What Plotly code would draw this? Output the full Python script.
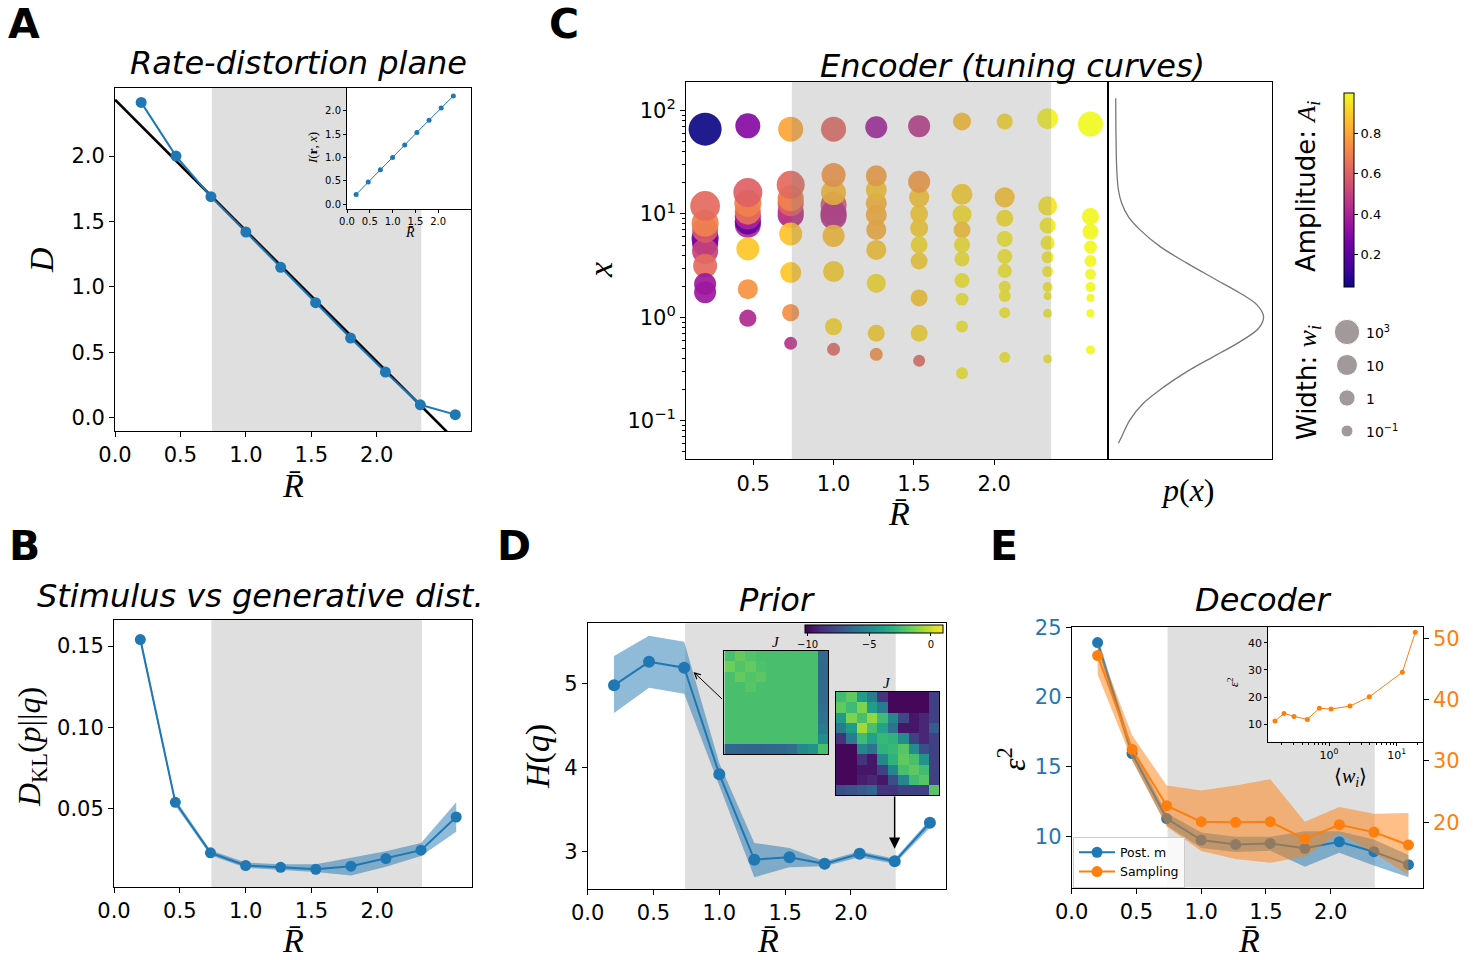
import numpy as np
import plotly.graph_objects as go

W, H = 1483, 960
BLUE = "#1f77b4"
ORANGE = "#ff7f0e"
SANS = "DejaVu Sans"
SERIF = "Liberation Serif"

# ---------------- data ----------------
R_vals = [0.2, 0.466, 0.733, 1.0, 1.266, 1.533, 1.8, 2.066, 2.333, 2.6]
SHADE = [0.74, 2.34]

# A: rate-distortion plane
A_D = [2.41, 2.0, 1.69, 1.42, 1.15, 0.88, 0.61, 0.35, 0.10, 0.025]
A_bound_R = [0.0, 2.6]
A_bound_D = [2.43, -0.17]
A_inset_I = [0.21, 0.48, 0.74, 1.0, 1.27, 1.54, 1.80, 2.06, 2.32]

# B: KL divergence
B_dkl = [0.154, 0.054, 0.023, 0.0152, 0.0141, 0.0129, 0.0148, 0.0195, 0.0246, 0.045]
B_lo = [0.152, 0.052, 0.0215, 0.0138, 0.0125, 0.0112, 0.0090, 0.0145, 0.0210, 0.036]
B_hi = [0.157, 0.056, 0.0245, 0.0170, 0.0160, 0.0160, 0.0200, 0.0240, 0.0290, 0.054]

# C: encoder (per column of R_vals; log10 x, log10 width, amplitude)
C_logx = [
    [0.766, 0.717, 0.640, 0.846, 0.911, 1.078, 0.498, 0.323, 0.243, 1.821],
    [0.895, 0.926, 0.975, 1.023, 1.104, 1.207, 0.662, 0.272, -0.009, 1.853],
    [0.991, 1.023, 1.104, 1.153, 1.282, 0.807, 0.433, 0.045, -0.251, 1.821],
    [1.088, 0.975, 1.008, 1.207, 1.378, 0.788, 0.443, -0.09, -0.309, 1.821],
    [0.991, 0.846, 1.104, 1.233, 1.369, 0.652, 0.329, -0.155, -0.358, 1.84],
    [1.001, 0.862, 1.161, 1.312, 0.701, 0.546, 0.188, -0.155, -0.42, 1.85],
    [1.19, 0.994, 0.846, 0.701, 0.565, 0.356, 0.176, -0.09, -0.542, 1.895],
    [1.161, 0.959, 0.759, 0.588, 0.449, 0.296, 0.206, 0.045, -0.387, 1.895],
    [1.078, 0.888, 0.72, 0.582, 0.443, 0.294, 0.206, 0.039, -0.403, 1.922],
    [0.975, 0.83, 0.68, 0.546, 0.417, 0.294, 0.188, 0.039, -0.316, 1.87],
]
C_logw = [
    [3.9, 3.4, 3.4, 3.4, 3.9, 5.3, 2.4, 1.47, 1.47, 7.0],
    [3.4, 3.4, 3.4, 3.4, 3.9, 4.9, 1.93, 0.81, 0.2, 2.86],
    [3.4, 3.4, 3.4, 3.4, 4.4, 1.93, 1.0, 0.2, -0.77, 2.86],
    [3.4, 3.4, 3.4, 2.86, 2.4, 1.47, 1.0, 0.2, -0.77, 2.86],
    [1.0, 0.81, 1.0, 1.0, 1.0, 0.81, 0.59, 0.15, -0.77, 1.47],
    [0.37, 0.37, 0.81, 1.47, 0.15, 0.15, 0.15, 0.15, -1.0, 1.47],
    [1.0, 0.59, 0.15, -0.07, -0.29, -0.29, -0.77, -1.0, -1.0, 0.37],
    [0.81, 0.15, -0.07, -0.29, -0.5, -1.0, -1.0, -1.23, -1.23, -0.07],
    [0.59, -0.07, -0.5, -1.0, -1.23, -1.47, -1.93, -1.7, -1.7, 1.0],
    [0.15, -0.07, -0.77, -1.0, -1.23, -1.47, -1.93, -1.93, -1.7, 2.86],
]
C_amp = [
    [0.20, 0.28, 0.50, 0.58, 0.70, 0.63, 0.63, 0.36, 0.36, 0.04],
    [0.42, 0.22, 0.40, 0.65, 0.70, 0.60, 0.88, 0.75, 0.42, 0.30],
    [0.42, 0.47, 0.60, 0.70, 0.63, 0.87, 0.88, 0.74, 0.45, 0.80],
    [0.57, 0.45, 0.45, 0.85, 0.76, 0.86, 0.90, 0.92, 0.62, 0.62],
    [0.82, 0.82, 0.83, 0.87, 0.78, 0.88, 0.93, 0.90, 0.74, 0.37],
    [0.90, 0.90, 0.88, 0.77, 0.93, 0.90, 0.88, 0.92, 0.62, 0.45],
    [0.90, 0.94, 0.87, 0.95, 0.95, 0.96, 0.96, 0.96, 0.96, 0.86],
    [0.87, 0.94, 0.96, 0.96, 0.96, 0.96, 0.96, 0.96, 0.96, 0.92],
    [0.95, 0.96, 0.96, 0.96, 0.96, 0.96, 0.96, 0.96, 0.96, 0.98],
    [0.99, 0.99, 0.99, 0.99, 0.99, 0.99, 0.99, 0.99, 0.99, 1.0],
]
AMP_RANGE = [0.039, 0.997]
WIDTH_LEGEND_LOGW = [3, 1, 0, -1]
WIDTH_LEGEND_TEXT = ["10<sup>3</sup>", "10", "1", "10<sup>\u22121</sup>"]

# p(x) curve (log10 x, normalised density)
PX_logx = [2.121, 1.749, 1.427, 1.233, 1.104, 0.975, 0.846, 0.684, 0.524, 0.378, 0.233,
           0.12, 0.007, -0.106, -0.235, -0.38, -0.526, -0.671, -0.832, -0.993, -1.155, -1.219]
PX_p = [0.0, 0.002, 0.007, 0.018, 0.040, 0.085, 0.164, 0.299, 0.479, 0.658, 0.838,
        0.951, 0.995, 0.962, 0.838, 0.658, 0.479, 0.327, 0.186, 0.096, 0.040, 0.018]

# D: prior entropy
D_H = [4.98, 5.26, 5.19, 3.92, 2.90, 2.93, 2.85, 2.97, 2.88, 3.34]
D_lo = [4.65, 4.95, 4.88, 3.78, 2.69, 2.81, 2.82, 2.93, 2.85, 3.28]
D_hi = [5.33, 5.57, 5.50, 4.05, 3.10, 3.04, 2.88, 3.00, 2.91, 3.38]
J_RANGE = [-10.2, 1.0]
J_low_rate = [
    [-2.3, -1.7, -2.1, -2.3, -2.3, -2.3, -2.3, -2.3, -2.3, -6.3],
    [-1.5, -2.1, -1.7, -2.2, -2.3, -2.3, -2.3, -2.3, -2.3, -6.4],
    [-2.3, -1.7, -2.1, -1.9, -2.3, -2.3, -2.3, -2.3, -2.3, -6.4],
    [-2.3, -2.3, -2.0, -2.3, -2.3, -2.3, -2.3, -2.3, -2.3, -6.3],
    [-2.3, -2.3, -2.3, -2.3, -2.3, -2.3, -2.3, -2.3, -2.3, -6.3],
    [-2.3, -2.3, -2.3, -2.3, -2.3, -2.3, -2.3, -2.3, -2.3, -6.2],
    [-2.3, -2.3, -2.3, -2.3, -2.3, -2.3, -2.3, -2.3, -2.3, -6.0],
    [-2.3, -2.3, -2.3, -2.3, -2.3, -2.3, -2.3, -2.3, -2.3, -5.6],
    [-2.3, -2.3, -2.3, -2.3, -2.3, -2.3, -2.3, -2.3, -2.3, -4.8],
    [-6.4, -6.5, -6.6, -6.6, -6.5, -6.4, -6.2, -4.9, -4.5, -2.3],
]
J_high_rate = [
    [-2.5, -1.8, -4.0, -5.5, -8.5, -10.0, -10.0, -10.0, -10.0, -8.0],
    [-1.8, -2.5, -1.2, -4.0, -5.5, -10.0, -10.0, -10.0, -10.0, -8.0],
    [-4.0, -1.2, -2.3, -0.8, -2.5, -5.0, -7.8, -9.5, -9.0, -8.0],
    [-5.5, -4.0, -0.6, -2.3, -3.8, -6.0, -9.5, -9.5, -9.0, -7.0],
    [-8.5, -5.5, -2.5, -3.8, -2.7, -3.0, -4.8, -8.0, -9.0, -8.0],
    [-10.0, -10.0, -5.0, -6.0, -3.0, -2.7, -2.0, -4.8, -7.5, -8.0],
    [-10.0, -10.0, -8.5, -9.5, -5.0, -3.0, -1.8, -2.3, -4.5, -8.0],
    [-10.0, -10.0, -9.5, -9.5, -8.0, -5.0, -2.3, -1.8, -2.5, -8.0],
    [-10.0, -10.0, -9.3, -9.0, -9.5, -7.5, -5.0, -2.5, -2.0, -8.0],
    [-7.5, -7.3, -7.0, -6.5, -8.5, -8.5, -8.0, -8.0, -8.0, -2.0],
]

# E: decoder
E_post = [23.9, 15.96, 11.3, 9.76, 9.45, 9.52, 9.17, 9.64, 8.93, 8.0]
E_post_lo = [23.5, 15.5, 10.8, 9.2, 8.9, 9.0, 7.85, 8.85, 7.94, 7.1]
E_post_hi = [24.3, 16.4, 11.7, 10.3, 10.0, 10.0, 10.4, 10.4, 9.8, 8.7]
E_samp = [47.2, 31.9, 22.7, 20.1, 20.0, 20.1, 17.3, 19.6, 18.4, 16.3]
E_samp_lo = [44.1, 30.1, 19.3, 15.3, 14.0, 13.4, 14.4, 18.2, 15.0, 11.4]
E_samp_hi = [49.0, 34.2, 26.0, 25.2, 26.0, 27.0, 20.1, 22.5, 21.4, 21.5]
E_inset_w = [0.159, 0.216, 0.304, 0.478, 0.719, 1.07, 2.04, 3.94, 12.1, 18.8]
E_inset_eps = [11.2, 14.0, 12.9, 11.8, 15.9, 15.6, 16.7, 20.1, 29.1, 43.8]


# ---------------- helpers ----------------
def dx(a, b):
    return [a / W, b / W]


def dy(top, bottom):
    return [1 - bottom / H, 1 - top / H]


def size_of(lw):
    return np.interp(lw, [-2, -1, 0, 1, 3, 7], [7.6, 12, 16.3, 21, 25.3, 33])


def ann(text, px, py, size, rot=0, family=SANS, xanchor="center", color="black"):
    return dict(text=text, x=px / W, y=1 - py / H, xref="paper", yref="paper",
                showarrow=False, textangle=rot, xanchor=xanchor, yanchor="middle",
                font=dict(size=size, family=family, color=color))


def ax(domain, rng, tickvals=None, ticktext=None, anchor=None, size=21, ticklen=5, **kw):
    d = dict(domain=domain, range=rng, showgrid=False, zeroline=False, showline=True,
             linecolor="black", linewidth=1, mirror=True, ticks="outside", ticklen=ticklen,
             tickwidth=1, tickcolor="black",
             tickfont=dict(family=SANS, size=size, color="black"), anchor=anchor)
    if tickvals is not None:
        d["tickmode"] = "array"
        d["tickvals"] = tickvals
        d["ticktext"] = ticktext if ticktext is not None else [str(v) for v in tickvals]
    d.update(kw)
    return d


def band(fig, xs, lo, hi, color, xa, ya):
    fig.add_trace(go.Scatter(x=xs, y=lo, mode="lines", line=dict(width=0), showlegend=False,
                             hoverinfo="skip", xaxis=xa, yaxis=ya))
    fig.add_trace(go.Scatter(x=xs, y=hi, mode="lines", line=dict(width=0), fill="tonexty",
                             fillcolor=color, showlegend=False, hoverinfo="skip",
                             xaxis=xa, yaxis=ya))


fig = go.Figure()
R_ticks = [0, 0.5, 1.0, 1.5, 2.0]
R_text = ["0.0", "0.5", "1.0", "1.5", "2.0"]

# ---------- A ----------
fig.add_trace(go.Scatter(x=A_bound_R, y=A_bound_D, mode="lines", line=dict(color="black", width=2.6),
                         showlegend=False, xaxis="x", yaxis="y"))
fig.add_trace(go.Scatter(x=R_vals, y=A_D, mode="lines+markers", line=dict(color=BLUE, width=2),
                         marker=dict(size=11, color=BLUE), showlegend=False, xaxis="x", yaxis="y"))
fig.add_trace(go.Scatter(x=R_vals[:len(A_inset_I)], y=A_inset_I, mode="lines+markers",
                         line=dict(color=BLUE, width=1), marker=dict(size=5, color=BLUE),
                         showlegend=False, xaxis="x2", yaxis="y2"))

# ---------- C ----------
cx, cy, cs, cc = [], [], [], []
for i, r in enumerate(R_vals):
    for lx, lw, a in zip(C_logx[i], C_logw[i], C_amp[i]):
        cx.append(r)
        cy.append(10 ** lx)
        cs.append(float(size_of(lw)))
        cc.append(a)
fig.add_trace(go.Scatter(
    x=cx, y=cy, mode="markers", showlegend=False, xaxis="x3", yaxis="y3",
    marker=dict(size=cs, color=cc, colorscale="Plasma", cmin=AMP_RANGE[0], cmax=AMP_RANGE[1],
                opacity=0.92, line=dict(width=0),
                colorbar=dict(x=1343.7 / W, xanchor="left", y=1 - 93.3 / H, yanchor="top",
                              len=194.4 / H, lenmode="fraction", thickness=10, thicknessmode="pixels",
                              xpad=0, ypad=0, outlinewidth=1, outlinecolor="black",
                              tickmode="array", tickvals=[0.2, 0.4, 0.6, 0.8],
                              ticktext=["0.2", "0.4", "0.6", "0.8"], ticks="outside", ticklen=4,
                              tickcolor="black",
                              tickfont=dict(family=SANS, size=13, color="black")),
                showscale=True)))
fig.add_trace(go.Scatter(x=PX_p, y=[10 ** v for v in PX_logx], mode="lines",
                         line=dict(color="#777777", width=1.3, shape="spline"),
                         showlegend=False, xaxis="x4", yaxis="y4"))
fig.add_trace(go.Scatter(x=[0.5] * 4, y=[3, 2, 1, 0], mode="markers",
                         marker=dict(size=[float(size_of(v)) for v in WIDTH_LEGEND_LOGW], color="#7b7070"),
                         showlegend=False, xaxis="x5", yaxis="y5"))

# ---------- B ----------
band(fig, R_vals, B_lo, B_hi, "rgba(31,119,180,0.5)", "x6", "y6")
fig.add_trace(go.Scatter(x=R_vals, y=B_dkl, mode="lines+markers", line=dict(color=BLUE, width=2),
                         marker=dict(size=11, color=BLUE), showlegend=False, xaxis="x6", yaxis="y6"))

# ---------- D ----------
band(fig, R_vals, D_lo, D_hi, "rgba(31,119,180,0.5)", "x7", "y7")
fig.add_trace(go.Scatter(x=R_vals, y=D_H, mode="lines+markers", line=dict(color=BLUE, width=2),
                         marker=dict(size=12, color=BLUE), showlegend=False, xaxis="x7", yaxis="y7"))
fig.add_trace(go.Heatmap(z=J_low_rate, colorscale="Viridis", zmin=J_RANGE[0], zmax=J_RANGE[1],
                         xaxis="x8", yaxis="y8", showscale=True,
                         colorbar=dict(orientation="h", x=(805 + 943.3) / 2 / W, xanchor="center",
                                       y=1 - 625.3 / H, yanchor="top", len=138.3 / W, lenmode="fraction",
                                       thickness=8, thicknessmode="pixels", xpad=0, ypad=0,
                                       outlinewidth=1, outlinecolor="black", tickmode="array",
                                       tickvals=[-10, -5, 0], ticktext=["\u221210", "\u22125", "0"],
                                       ticks="outside", ticklen=3, tickcolor="black",
                                       tickfont=dict(family=SANS, size=10, color="black"))))
fig.add_trace(go.Heatmap(z=J_high_rate, colorscale="Viridis", zmin=J_RANGE[0], zmax=J_RANGE[1],
                         xaxis="x9", yaxis="y9", showscale=False))

# ---------- E ----------
band(fig, R_vals, E_post_lo, E_post_hi, "rgba(31,119,180,0.5)", "x10", "y10")
fig.add_trace(go.Scatter(x=R_vals, y=E_post, mode="lines+markers", name="Post. m",
                         line=dict(color=BLUE, width=2), marker=dict(size=11, color=BLUE),
                         xaxis="x10", yaxis="y10", showlegend=True, legendrank=1))
band(fig, R_vals, E_samp_lo, E_samp_hi, "rgba(255,127,14,0.5)", "x10", "y11")
fig.add_trace(go.Scatter(x=R_vals, y=E_samp, mode="lines+markers", name="Sampling",
                         line=dict(color=ORANGE, width=2), marker=dict(size=11, color=ORANGE),
                         xaxis="x10", yaxis="y11", showlegend=True, legendrank=2))
fig.add_trace(go.Scatter(x=E_inset_w, y=E_inset_eps, mode="lines+markers",
                         line=dict(color=ORANGE, width=1), marker=dict(size=5, color=ORANGE),
                         showlegend=False, xaxis="x11", yaxis="y12"))

# ---------- axes ----------
C_yrange = [-1.374, 2.28]
C_yticks = [0.1, 1, 10, 100]
C_ytext = ["10<sup>\u22121</sup>", "10<sup>0</sup>", "10<sup>1</sup>", "10<sup>2</sup>"]
C_minor = [k * 10.0 ** e for e in range(-2, 3) for k in range(2, 10)]
E_minor = [k * 10.0 ** e for e in range(-1, 2) for k in range(2, 10)]

fig.update_layout(
    width=W, height=H, margin=dict(l=0, r=0, t=0, b=0, pad=0, autoexpand=False),
    plot_bgcolor="white", paper_bgcolor="white",
    xaxis=ax(dx(115, 471), [0, 2.72], R_ticks, R_text, "y"),
    yaxis=ax(dy(88, 431), [-0.1, 2.52], [0, 0.5, 1, 1.5, 2], ["0.0", "0.5", "1.0", "1.5", "2.0"], "x"),
    xaxis2=ax(dx(347, 471), [0, 2.72], R_ticks, R_text, "y2", size=10, ticklen=3),
    yaxis2=ax(dy(88, 209), [-0.1, 2.49], [0, 0.5, 1, 1.5, 2], ["0.0", "0.5", "1.0", "1.5", "2.0"], "x2",
              size=10, ticklen=3),
    xaxis3=ax(dx(686, 1108.3), [0.081, 2.711], [0.5, 1, 1.5, 2], ["0.5", "1.0", "1.5", "2.0"], "y3"),
    yaxis3=ax(dy(81.7, 459.3), C_yrange, C_yticks, C_ytext, "x3", type="log",
              minor=dict(tickvals=C_minor, ticks="outside", ticklen=3, tickwidth=0.8, tickcolor="black")),
    xaxis4=ax(dx(1108.3, 1271.7), [-0.05, 1.05], [], [], "y4", ticks="", showticklabels=False),
    yaxis4=ax(dy(81.7, 459.3), C_yrange, [], [], "x4", type="log", ticks="", showticklabels=False),
    xaxis5=dict(domain=dx(1330, 1364), range=[0, 1], anchor="y5", visible=False),
    yaxis5=dict(domain=dy(315.5, 447.5), range=[-0.5, 3.5], anchor="x5", visible=False),
    xaxis6=ax(dx(114, 472), [0, 2.72], R_ticks, R_text, "y6"),
    yaxis6=ax(dy(620, 887), [0.002, 0.166], [0.05, 0.1, 0.15], ["0.05", "0.10", "0.15"], "x6"),
    xaxis7=ax(dx(587.7, 945.7), [0, 2.72], R_ticks, R_text, "y7"),
    yaxis7=ax(dy(623.3, 889), [2.55, 5.72], [3, 4, 5], ["3", "4", "5"], "x7"),
    xaxis8=ax(dx(724.3, 828), [-0.5, 9.5], [], [], "y8", ticks="", showticklabels=False),
    yaxis8=ax(dy(650.7, 754.3), [9.5, -0.5], [], [], "x8", ticks="", showticklabels=False),
    xaxis9=ax(dx(835.7, 939.3), [-0.5, 9.5], [], [], "y9", ticks="", showticklabels=False),
    yaxis9=ax(dy(691.7, 795.3), [9.5, -0.5], [], [], "x9", ticks="", showticklabels=False),
    xaxis10=ax(dx(1071.7, 1422.7), [0, 2.71], R_ticks, R_text, "y10"),
    yaxis10=ax(dy(626.7, 887.7), [6.35, 25.04], [10, 15, 20, 25], ["10", "15", "20", "25"], "x10",
               tickfont=dict(family=SANS, size=21, color=BLUE)),
    yaxis11=ax(dy(626.7, 887.7), [9.33, 51.9], [20, 30, 40, 50], ["20", "30", "40", "50"], "x10",
               overlaying="y10", side="right", showline=False, mirror=False,
               tickfont=dict(family=SANS, size=21, color=ORANGE)),
    xaxis11=ax(dx(1268.3, 1422.7), [-0.897, 1.384], [1, 10], ["10<sup>0</sup>", "10<sup>1</sup>"], "y12",
               type="log", size=11, ticklen=3,
               minor=dict(tickvals=E_minor, ticks="outside", ticklen=2, tickwidth=0.8, tickcolor="black")),
    yaxis12=ax(dy(627.3, 741.7), [3.6, 45.65], [10, 20, 30, 40], ["10", "20", "30", "40"], "x11",
               size=11, ticklen=3),
    legend=dict(x=1073 / W, y=1 - 836.7 / H, xanchor="left", yanchor="top", traceorder="normal",
                bgcolor="rgba(255,255,255,0.8)", bordercolor="#cccccc", borderwidth=1,
                font=dict(family=SANS, size=12.5, color="black"), tracegroupgap=0, itemwidth=36),
    showlegend=True,
)

# ---------- shapes ----------
GREY = "rgba(128,128,128,0.25)"
shapes = [
    dict(type="rect", xref="x", yref="y", x0=SHADE[0], x1=SHADE[1], y0=-0.1, y1=2.52,
         fillcolor=GREY, line=dict(width=0), layer="below"),
    dict(type="rect", xref="x2", yref="y2", x0=0, x1=2.72, y0=-0.1, y1=2.49,
         fillcolor="white", line=dict(width=0), layer="below"),
    dict(type="rect", xref="x3", yref="y3 domain", x0=SHADE[0], x1=SHADE[1] + 0.015, y0=0, y1=1,
         fillcolor=GREY, line=dict(width=0), layer="above"),
    dict(type="rect", xref="x6", yref="y6", x0=SHADE[0], x1=SHADE[1], y0=0.002, y1=0.166,
         fillcolor=GREY, line=dict(width=0), layer="below"),
    dict(type="rect", xref="x7", yref="y7", x0=SHADE[0], x1=SHADE[1], y0=2.55, y1=5.72,
         fillcolor=GREY, line=dict(width=0), layer="below"),
    dict(type="rect", xref="x10", yref="y10", x0=SHADE[0], x1=SHADE[1], y0=6.35, y1=25.04,
         fillcolor=GREY, line=dict(width=0), layer="below"),
    dict(type="rect", xref="x11", yref="y12", x0=-0.897, x1=1.384, y0=3.6, y1=45.65,
         fillcolor="white", line=dict(width=0), layer="below"),
]
fig.update_layout(shapes=shapes)

# ---------- annotations ----------
RBAR = "<i>R\u0304</i>"
anns = [
    ann("<b>A</b>", 24, 24, 41), ann("<b>B</b>", 24, 546, 41), ann("<b>C</b>", 564, 24, 41),
    ann("<b>D</b>", 514, 546, 41), ann("<b>E</b>", 1004, 546, 41),
    ann("<i>Rate-distortion plane</i>", 298, 63, 32),
    ann("<i>Encoder (tuning curves)</i>", 1012, 66, 32),
    ann("<i>Stimulus vs generative dist.</i>", 260, 596, 32),
    ann("<i>Prior</i>", 777, 600, 32),
    ann("<i>Decoder</i>", 1263, 600, 32),
    # axis labels
    ann(RBAR, 293, 485, 34, family=SERIF), ann("<i>D</i>", 42, 260, 34, rot=-90, family=SERIF),
    ann("<i>I</i>(<b>r</b>, <i>x</i>)", 312, 148, 13, rot=-90, family=SERIF),
    ann(RBAR, 410, 233, 14, family=SERIF),
    ann(RBAR, 899, 513, 34, family=SERIF), ann("<i>x</i>", 600, 270, 34, rot=-90, family=SERIF),
    ann("<i>p</i>(<i>x</i>)", 1188, 490, 32, family=SERIF),
    ann("Amplitude: <span style='font-family:Liberation Serif'><i>A<sub>i</sub></i></span>", 1307, 187, 26, rot=-90),
    ann("Width: <span style='font-family:Liberation Serif'><i>w<sub>i</sub></i></span>", 1308, 383, 26, rot=-90),
    ann(RBAR, 293, 940, 34, family=SERIF),
    ann("<i>D</i><sub>KL</sub>(<i>p</i>||<i>q</i>)", 31, 747, 32, rot=-90, family=SERIF),
    ann(RBAR, 768, 940, 34, family=SERIF), ann("<i>H</i>(<i>q</i>)", 538, 757, 34, rot=-90, family=SERIF),
    ann("<i>J</i>", 776, 642, 15, family=SERIF), ann("<i>J</i>", 887, 683, 15, family=SERIF),
    ann(RBAR, 1249, 940, 34, family=SERIF), ann("<i>\u03b5</i><sup>2</sup>", 1012, 759, 32, rot=-90, family=SERIF),
    ann("<i>\u03b5</i><sup>2</sup>", 1233, 682, 13, rot=-90, family=SERIF),
    ann("\u27e8<i>w<sub>i</sub></i>\u27e9", 1350, 777, 20, family=SERIF),
]
for txt, py in zip(WIDTH_LEGEND_TEXT, [332, 365.7, 398.7, 431]):
    anns.append(ann(txt, 1364, py, 14, xanchor="left"))
# arrows in D
anns.append(dict(x=0.804, y=5.14, xref="x7", yref="y7", ax=1.032, ay=4.80, axref="x7", ayref="y7",
                 showarrow=True, arrowhead=5, arrowsize=1.2, arrowwidth=1, arrowcolor="black", text=""))
anns.append(dict(x=2.332, y=3.03, xref="x7", yref="y7", ax=2.332, ay=3.67, axref="x7", ayref="y7",
                 showarrow=True, arrowhead=2, arrowsize=1.6, arrowwidth=1.4, arrowcolor="black", text=""))
fig.update_layout(annotations=anns)

fig.write_html("out.html")
